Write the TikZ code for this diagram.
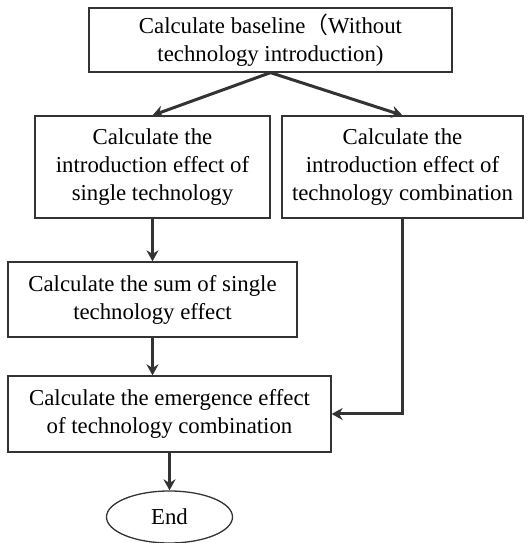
\documentclass[tikz,border=0pt]{standalone}
\usepackage{fontspec}
\setmainfont{Liberation Serif}
\newfontfamily\cjk{Noto Sans CJK SC}
\usepackage{tikz}
\usetikzlibrary{arrows.meta,shapes.geometric}

\begin{document}
\begin{tikzpicture}[x=1pt,y=1pt]
	\tikzstyle{box}=[rectangle,draw=black!80,line width=1.3pt,align=center,inner sep=0pt,font=\fontsize{22.8}{28}\selectfont]
	\tikzstyle{flow}=[draw=black!80,line width=3pt,-{Stealth[length=11pt,width=12pt]}]
	\useasboundingbox (0,0) rectangle (529,543);
	\node[box,minimum width=363,minimum height=64](base) at (270.5,503) {Calculate baseline{\cjk （}Without\\technology introduction)};
	\node[box,minimum width=235,minimum height=102](single) at (152.5,376) {Calculate the\\introduction effect of\\single technology};
	\node[box,minimum width=241,minimum height=102](comb) at (402.5,376) {Calculate the\\introduction effect of\\technology combination};
	\node[box,minimum width=289,minimum height=75](sum) at (152.5,243.5) {Calculate the sum of single\\technology effect};
	\node[box,minimum width=323,minimum height=76](emerge) at (169.5,129) {Calculate the emergence effect\\of technology combination};
	\node[box,ellipse,minimum width=126,minimum height=52](end) at (169.5,26) {End};
	\draw[flow](base.south) -- (single.north);
	\draw[flow](base.south) -- (comb.north);
	\draw[flow](single) -- (sum);
	\draw[flow](sum.south) -- (sum.south |- emerge.north);
	\draw[flow](comb.south) |- (emerge.east);
	\draw[flow](emerge) -- (end);
\end{tikzpicture}
\end{document}
